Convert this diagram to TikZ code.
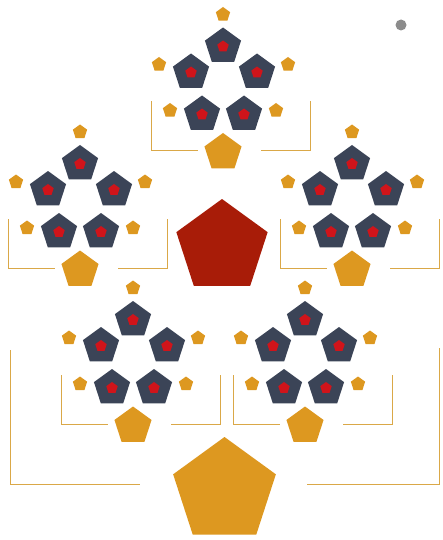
\documentclass[tikz,border=0pt]{standalone}
\usetikzlibrary{shapes.geometric}
\definecolor{gold}{RGB}{221,152,32}
\definecolor{linegold}{RGB}{218,168,72}
\definecolor{slate}{RGB}{59,68,87}
\definecolor{dotred}{RGB}{208,20,26}
\definecolor{bigred}{RGB}{168,28,8}
\definecolor{greydot}{RGB}{140,140,140}
\tikzset{
 pent/.style={regular polygon, regular polygon sides=5, inner sep=0pt, outer sep=0pt, draw=none},
 smallgold/.style={pent, fill=gold, minimum size=15pt},
 midgold/.style={pent, fill=gold, minimum size=39pt},
 biggold/.style={pent, fill=gold, minimum size=108pt},
 bigredp/.style={pent, fill=bigred, minimum size=96pt},
 darkp/.style={pent, fill=slate, minimum size=38pt},
 reddot/.style={pent, fill=dotred, minimum size=12pt},
 bracket/.style={draw=linegold, line width=0.9pt},
}
\newcommand\mycluster[3]{%
 \begin{scope}[shift={(#2,#3)}]
  \draw[bracket] (-72,-51) -- (-72,-2) -- (-25,-2);
  \draw[bracket] (38,-2) -- (87,-2) -- (87,-51);
  \node[midgold] (#1m) at (0,0) {};
  \node[smallgold] (#1t) at (0,-138) {};
  \node[darkp] (#1a) at (0,-106) {};
  \node[reddot] (#1ar) at (#1a) {};
  \node[darkp] (#1b) at (-32,-80) {};
  \node[reddot] (#1br) at (#1b) {};
  \node[darkp] (#1c) at (34,-80) {};
  \node[reddot] (#1cr) at (#1c) {};
  \node[darkp] (#1d) at (-21,-38) {};
  \node[reddot] (#1dr) at (#1d) {};
  \node[darkp] (#1e) at (21,-38) {};
  \node[reddot] (#1er) at (#1e) {};
  \node[smallgold] (#1g1) at (-64,-88) {};
  \node[smallgold] (#1g2) at (65,-88) {};
  \node[smallgold] (#1g3) at (-53,-42) {};
  \node[smallgold] (#1g4) at (53,-42) {};
 \end{scope}}
\begin{document}
\begin{tikzpicture}[x=1pt,y=-1pt]
\useasboundingbox (0,0) rectangle (442,540);
\fill[white] (0,0) rectangle (442,540);
\node[circle, fill=greydot, minimum size=11pt, inner sep=0pt] (dot) at (401,25) {};
\draw[bracket] (10,350) -- (10,484) -- (140,484);
\draw[bracket] (307,484) -- (439,484) -- (439,348);
\node[bigredp] (red) at (222,247) {};
\node[biggold] (gold) at (224.5,491) {};
\mycluster{T}{223}{152.5}
\mycluster{L}{80}{270}
\mycluster{R}{352}{270}
\mycluster{BL}{133}{426}
\mycluster{BR}{305}{426}
\end{tikzpicture}
\end{document}
